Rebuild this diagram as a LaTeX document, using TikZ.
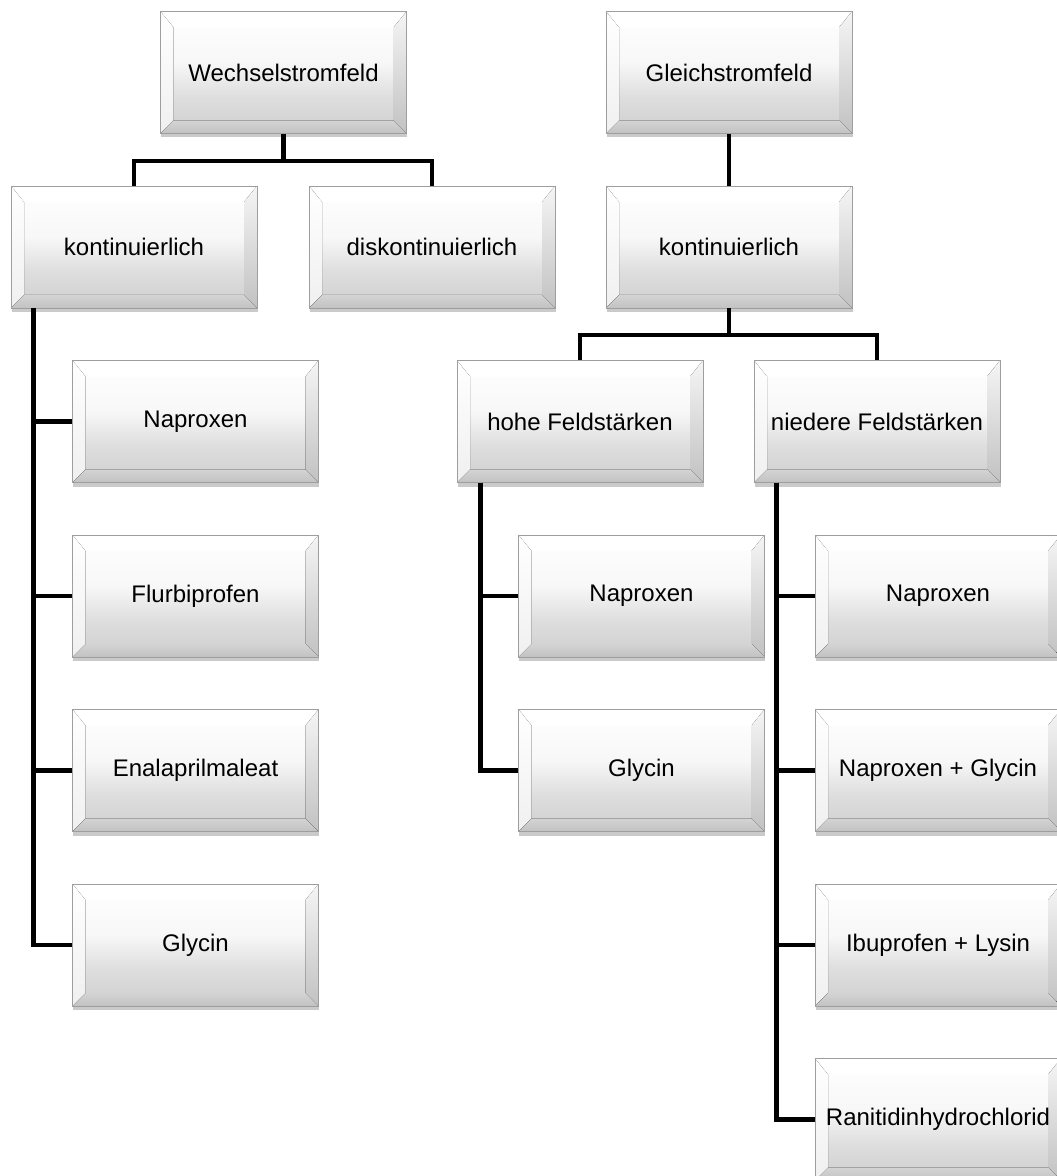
\documentclass[tikz,border=0pt]{standalone}
\usepackage{fontspec}
\setmainfont{Liberation Sans}
\usetikzlibrary{calc,shadows,positioning}

\pgfdeclareverticalshading{facegrad}{100bp}{color(0bp)=(black!19); color(25bp)=(black!19); color(40bp)=(black!13); color(54bp)=(black!3); color(75bp)=(white); color(100bp)=(white)}

\begin{document}
\begin{tikzpicture}[x=0.75pt, y=-0.75pt,
    bevelbox/.style={rectangle, draw=black!38, line width=0.7pt,
        minimum width=184.5pt, minimum height=91.5pt, inner sep=0pt,
        shade, shading=facegrad,
        font=\fontsize{18}{21}\selectfont,
        drop shadow={shadow xshift=0.5pt, shadow yshift=-3pt, opacity=0.35, fill=black!60},
        path picture={
            % bevel rims
            \fill[white]
                (path picture bounding box.north west) -- (path picture bounding box.north east)
                -- ($(path picture bounding box.north east)+(-9.75pt,-12pt)$)
                -- ($(path picture bounding box.north west)+(9.75pt,-12pt)$) -- cycle;
            \fill[top color=white, bottom color=black!6]
                (path picture bounding box.north west)
                -- ($(path picture bounding box.north west)+(9.75pt,-12pt)$)
                -- ($(path picture bounding box.south west)+(9.75pt,9.75pt)$)
                -- (path picture bounding box.south west) -- cycle;
            \fill[top color=black!4, bottom color=black!24]
                (path picture bounding box.north east)
                -- ($(path picture bounding box.north east)+(-9.75pt,-12pt)$)
                -- ($(path picture bounding box.south east)+(-9.75pt,9.75pt)$)
                -- (path picture bounding box.south east) -- cycle;
            \fill[top color=black!17, bottom color=black!24]
                (path picture bounding box.south west)
                -- ($(path picture bounding box.south west)+(9.75pt,9.75pt)$)
                -- ($(path picture bounding box.south east)+(-9.75pt,9.75pt)$)
                -- (path picture bounding box.south east) -- cycle;
        }},
    conn/.style={line width=3.4pt, black}]

    \useasboundingbox (0,0) rectangle (1056,1176);

    % Wechselstromfeld side
    \node[bevelbox] (wsf) at (283.5,72.5) {Wechselstromfeld};
    \node[bevelbox] (wkont) at (134,247) {kontinuierlich};
    \node[bevelbox] (wdis) at (432,247) {diskontinuierlich};
    \node[bevelbox] (wnap) at (195.5,421.5) {Naproxen};
    \node[bevelbox] (wflu) at (195.5,596) {Flurbiprofen};
    \node[bevelbox] (wena) at (195.5,770.5) {Enalaprilmaleat};
    \node[bevelbox] (wgly) at (195.5,945) {Glycin};

    % Gleichstromfeld side
    \node[bevelbox] (gsf) at (729,72.5) {Gleichstromfeld};
    \node[bevelbox] (gkont) at (729,247) {kontinuierlich};
    \node[bevelbox] (hoch) at (580,421.5) {hohe Feldstärken};
    \node[bevelbox] (nied) at (877,421.5) {niedere Feldstärken};
    \node[bevelbox] (hnap) at (641.5,596) {Naproxen};
    \node[bevelbox] (hgly) at (641.5,770.5) {Glycin};
    \node[bevelbox] (nnap) at (938,596) {Naproxen};
    \node[bevelbox] (nngl) at (938,770.5) {Naproxen + Glycin};
    \node[bevelbox] (nibu) at (938,945) {Ibuprofen + Lysin};
    \node[bevelbox] (nran) at (938,1119.5) {Ranitidinhydrochlorid};

    % connectors
    \draw[conn] (wsf.south) -- ++(0,27) coordinate (wjoin);
    \draw[conn] (wjoin) -| (wkont.north);
    \draw[conn] (wjoin) -| (wdis.north);
    \foreach \c in {wnap,wflu,wena,wgly}
        \draw[conn] ([xshift=17.25pt]wkont.south west) |- (\c.west);

    \draw[conn] (gsf.south) -- (gkont.north);
    \draw[conn] (gkont.south) -- ++(0,26.5) coordinate (gjoin);
    \draw[conn] (gjoin) -| (hoch.north);
    \draw[conn] (gjoin) -| (nied.north);
    \foreach \c in {hnap,hgly}
        \draw[conn] ([xshift=18pt]hoch.south west) |- (\c.west);
    \foreach \c in {nnap,nngl,nibu,nran}
        \draw[conn] ([xshift=17.25pt]nied.south west) |- (\c.west);
\end{tikzpicture}
\end{document}
